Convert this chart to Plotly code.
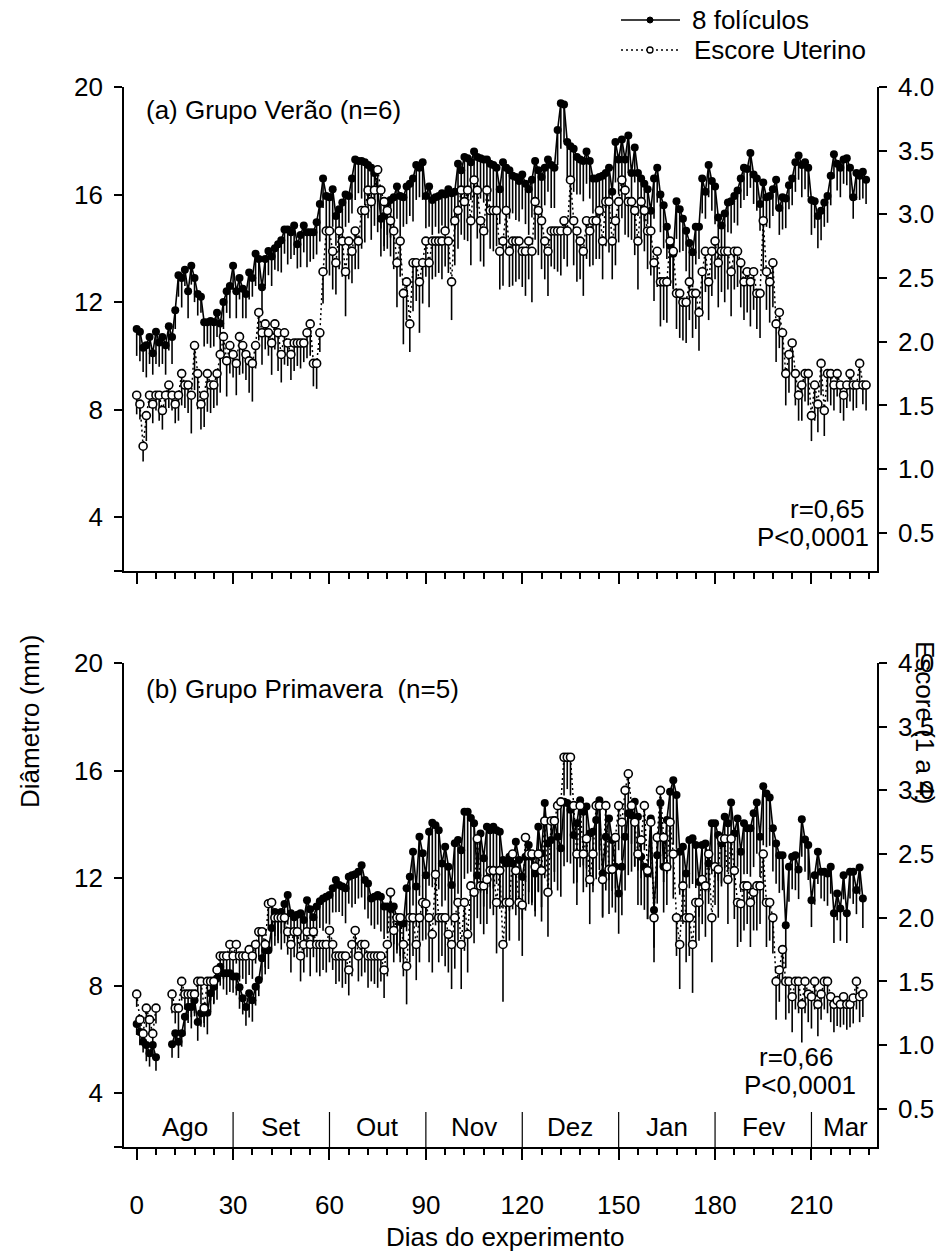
import plotly.graph_objects as go

# ---------------- data ----------------
# (a) Grupo Verão: mean diameter of the 8 largest follicles (mm), daily from day 0
fol_a = [11.0, 10.9, 10.3, 10.4, 10.7, 10.1, 10.9, 10.5, 10.7, 10.4,
         11.1, 10.7, 11.7, 13.0, 12.9, 13.2, 12.4, 13.35, 12.9, 12.3,
         12.2, 11.25, 11.25, 11.3, 11.25, 11.6, 11.2, 12.0, 12.4, 12.6,
         13.35, 12.4, 12.9, 12.5, 12.3, 13.1, 12.9, 13.8, 13.6, 12.55,
         13.6, 13.9, 13.7, 14.0, 14.15, 14.3, 14.7, 14.7, 14.6, 14.85,
         14.15, 14.5, 14.85, 14.6, 14.6, 14.6, 14.97, 15.65, 16.6, 15.95,
         15.9, 16.2, 15.2, 15.45, 15.7, 16.0, 15.95, 16.6, 17.3, 17.25,
         17.25, 17.2, 17.1, 17.0, 16.8, 16.2, 15.1, 15.2, 15.7, 15.8,
         15.9, 16.3, 15.95, 15.9, 16.3, 16.4, 16.6, 17.1, 17.0, 17.2,
         15.95, 16.3, 15.8, 15.9, 15.95, 16.05, 16.0, 16.2, 16.05, 16.1,
         17.15, 16.9, 17.4, 17.35, 17.2, 17.6, 17.4, 17.35, 17.3, 17.3,
         17.15, 17.1, 17.0, 16.2, 17.2, 17.0, 16.9, 16.7, 16.65, 16.5,
         16.75, 16.4, 16.2, 16.55, 17.25, 16.9, 16.65, 17.0, 17.3, 17.1,
         17.0, 18.4, 19.4, 19.35, 17.95, 17.8, 17.7, 17.4, 17.3, 17.25,
         17.6, 17.25, 16.6, 16.6, 16.65, 16.7, 16.8, 17.0, 16.1, 17.95,
         17.3, 18.05, 17.3, 18.2, 16.8, 17.75, 16.8, 16.6, 16.4, 16.2,
         15.4, 16.6, 17.0, 16.0, 15.6, 14.8, 14.1, 13.8, 15.75, 15.45,
         15.1, 14.65, 14.2, 13.85, 14.8, 14.8, 16.6, 16.1, 17.1, 16.5,
         16.3, 15.15, 14.85, 15.3, 15.7, 15.75, 15.95, 16.15, 16.6, 17.0,
         16.95, 17.55, 16.75, 16.6, 15.65, 16.45, 15.9, 15.95, 16.2, 16.55,
         15.5, 15.9, 15.85, 16.35, 16.6, 17.2, 17.45, 17.1, 17.2, 17.0,
         15.8, 15.75, 15.2, 15.4, 15.7, 15.95, 16.7, 17.5, 17.15, 17.0,
         17.3, 17.35, 17.0, 15.9, 16.8, 16.7, 16.85, 16.55]
fol_a_err = [1.0, 1.1, 0.9, 1.2, 1.0, 0.8, 1.2, 0.9, 1.0, 1.1, 0.9, 1.0,
             0.7, 0.8, 1.1, 0.6, 1.0, 0.7, 0.9, 0.8, 0.6, 0.9, 0.8, 1.0, 0.9,
             0.9, 1.1, 1.0, 0.8, 1.2, 0.9, 1.0, 0.8, 1.1, 0.9, 1.0, 0.7, 1.2, 1.1, 0.9, 1.0,
             0.9, 1.1, 0.8, 1.0, 1.2, 0.9, 1.3, 1.0, 1.1, 0.9, 1.2, 1.0, 1.3, 1.1, 1.0, 1.2, 1.4, 1.1, 1.3,
             1.2, 1.4, 1.1, 1.6, 1.3, 1.2, 1.0, 1.3, 1.5, 1.2, 1.4, 1.6, 1.3, 1.5, 1.2, 1.6, 1.4, 1.3, 1.2, 1.4,
             1.3, 1.2, 1.5, 1.1, 1.4, 1.2, 1.6, 1.3, 1.1, 1.4, 1.2, 1.5, 1.3, 1.1, 1.4, 1.2, 1.3, 1.5, 1.2, 1.4,
             1.6, 1.3, 1.8, 1.5, 1.4, 1.7, 1.9, 1.5, 1.6, 1.8, 1.4, 1.6, 1.5, 1.3, 1.7, 1.5, 1.8, 1.4, 1.6, 1.5,
             1.3, 1.5, 1.7, 1.4, 1.6, 1.3, 1.5, 1.4, 1.2, 1.6, 1.5, 1.3, 1.7, 1.4, 1.5, 1.2, 1.6, 1.4, 1.3, 1.5,
             1.2, 1.4, 1.3, 1.6, 1.2, 1.5, 1.3, 1.4, 1.1, 1.5, 1.3, 1.6, 1.2, 1.4, 1.5, 1.3, 1.6, 1.2, 1.4, 1.3,
             1.2, 1.5, 1.3, 1.4, 1.6, 1.2, 1.5, 1.3, 1.4, 1.6, 1.2, 1.5, 1.7, 1.3, 1.4, 1.2, 1.3, 1.0, 1.2, 1.1,
             1.4, 1.5, 1.2, 1.3, 1.1, 1.2, 1.0, 1.3, 1.1, 1.2, 1.0, 1.3, 1.1, 1.2, 1.0, 1.3, 1.1, 1.2, 1.0, 1.1,
             1.0, 1.2, 1.1, 0.9, 1.0, 1.1, 0.9, 1.2, 1.0, 1.1, 1.3, 1.0, 1.2, 1.1, 0.9, 1.0, 1.1, 0.9, 1.0, 1.1,
             0.9, 1.0, 1.1, 0.8, 1.0, 0.9, 1.0, 0.9]

# (a) uterine score (1 to 4)
esc_a = [1.58, 1.51, 1.18, 1.42, 1.58, 1.51, 1.58, 1.58, 1.46, 1.58,
         1.66, 1.58, 1.51, 1.58, 1.75, 1.66, 1.66, 1.58, 1.97, 1.75,
         1.51, 1.58, 1.75, 1.66, 1.66, 1.75, 1.90, 2.04, 1.85, 1.97,
         1.90, 1.83, 2.04, 1.97, 1.90, 1.85, 1.83, 1.97, 2.23, 2.07,
         2.14, 2.07, 1.99, 2.14, 2.07, 1.90, 2.07, 1.99, 1.90, 1.99,
         1.99, 1.99, 1.99, 2.07, 2.14, 1.83, 1.83, 2.07, 2.55, 2.87,
         2.87, 2.71, 2.62, 2.87, 2.79, 2.55, 2.79, 2.71, 2.87, 2.79,
         3.03, 3.03, 3.19, 3.10, 3.19, 3.35, 3.19, 3.10, 3.03, 2.95,
         2.87, 2.62, 2.79, 2.38, 2.47, 2.14, 2.62, 2.62, 2.47, 2.62,
         2.79, 2.62, 2.79, 2.79, 2.79, 2.79, 2.87, 2.79, 2.47, 2.95,
         3.03, 3.19, 3.10, 3.19, 2.95, 3.27, 3.19, 2.95, 2.87, 3.19,
         3.03, 3.03, 3.03, 2.71, 2.79, 3.03, 2.71, 2.79, 2.79, 2.79,
         2.71, 2.71, 2.79, 2.71, 3.10, 3.03, 2.95, 2.79, 2.71, 2.87,
         2.87, 2.87, 2.87, 2.95, 2.87, 3.27, 2.95, 2.87, 2.79, 2.71,
         2.95, 2.87, 2.95, 2.95, 3.03, 2.79, 3.10, 3.10, 2.79, 2.95,
         3.10, 3.27, 3.19, 3.10, 3.10, 3.03, 2.79, 3.10, 3.03, 2.87,
         2.87, 2.62, 2.71, 2.47, 2.47, 2.47, 2.79, 2.71, 2.38, 2.38,
         2.31, 2.31, 2.47, 2.38, 2.38, 2.23, 2.55, 2.71, 2.47, 2.71,
         2.79, 2.62, 2.71, 2.71, 2.71, 2.55, 2.71, 2.71, 2.62, 2.47,
         2.55, 2.47, 2.55, 2.38, 2.38, 2.95, 2.55, 2.47, 2.62, 2.14,
         2.23, 2.07, 1.75, 1.90, 1.99, 1.75, 1.58, 1.66, 1.75, 1.75,
         1.42, 1.66, 1.51, 1.83, 1.46, 1.75, 1.75, 1.66, 1.75, 1.66,
         1.58, 1.66, 1.75, 1.66, 1.66, 1.83, 1.66, 1.66]
esc_a_err = [0.15, 0.12, 0.12, 0.2, 0.1, 0.15, 0.12, 0.2, 0.15, 0.1, 0.18, 0.12, 0.15, 0.2, 0.25, 0.18, 0.22, 0.3, 0.35, 0.28,
             0.2, 0.25, 0.3, 0.22, 0.18, 0.25, 0.3, 0.2, 0.28, 0.22, 0.18, 0.25, 0.3, 0.22, 0.2, 0.25, 0.3, 0.18, 0.22, 0.25,
             0.2, 0.18, 0.25, 0.2, 0.3, 0.22, 0.25, 0.18, 0.2, 0.22, 0.18, 0.2, 0.15, 0.2, 0.25, 0.18, 0.2, 0.15, 0.25, 0.3,
             0.35, 0.3, 0.25, 0.3, 0.28, 0.35, 0.3, 0.25, 0.3, 0.22, 0.3, 0.25, 0.22, 0.3, 0.28, 0.25, 0.3, 0.35, 0.3, 0.28,
             0.3, 0.35, 0.28, 0.4, 0.3, 0.22, 0.38, 0.3, 0.4, 0.32, 0.28, 0.35, 0.3, 0.28, 0.25, 0.3, 0.28, 0.25, 0.3, 0.35,
             0.3, 0.35, 0.3, 0.4, 0.35, 0.3, 0.38, 0.32, 0.28, 0.35, 0.3, 0.32, 0.28, 0.3, 0.35, 0.3, 0.28, 0.35, 0.32, 0.3,
             0.28, 0.35, 0.3, 0.4, 0.3, 0.35, 0.38, 0.3, 0.35, 0.28, 0.3, 0.32, 0.35, 0.3, 0.28, 0.3, 0.35, 0.4, 0.3, 0.35,
             0.3, 0.28, 0.35, 0.3, 0.38, 0.3, 0.35, 0.4, 0.3, 0.35, 0.32, 0.3, 0.35, 0.28, 0.3, 0.35, 0.38, 0.3, 0.32, 0.3,
             0.35, 0.3, 0.28, 0.35, 0.3, 0.32, 0.35, 0.3, 0.28, 0.35, 0.3, 0.32, 0.3, 0.35, 0.28, 0.3, 0.35, 0.32, 0.3, 0.35,
             0.3, 0.35, 0.32, 0.4, 0.3, 0.35, 0.3, 0.28, 0.35, 0.3, 0.32, 0.35, 0.3, 0.28, 0.35, 0.4, 0.3, 0.32, 0.35, 0.3,
             0.28, 0.3, 0.25, 0.3, 0.22, 0.25, 0.2, 0.28, 0.22, 0.25, 0.2, 0.28, 0.22, 0.25, 0.2, 0.22, 0.25, 0.2, 0.18, 0.22,
             0.2, 0.18, 0.22, 0.2, 0.18, 0.2, 0.15, 0.2]

# (b) Grupo Primavera: follicle diameter (mm); days 7-10 not recorded
fol_b = [6.57, 6.28, 5.91, 5.79, 5.49, 5.79, 5.34, None, None, None,
         None, 5.82, 6.23, 5.91, 6.23, 6.84, 7.21, 7.21, 7.46, 6.65,
         6.97, 7.21, 6.99, 7.72, 7.96, 8.28, 8.7, 8.46, 8.46, 8.46,
         8.34, 8.34, 7.94, 7.53, 7.21, 7.72, 7.46, 7.96, 8.21, 9.02,
         9.32, 9.32, 10.14, 10.74, 10.69, 10.74, 11.04, 11.37, 10.69, 10.54,
         10.64, 10.69, 10.44, 11.18, 10.84, 10.54, 10.94, 11.14, 11.24, 11.31,
         11.37, 11.62, 11.93, 11.74, 11.69, 11.62, 12.05, 12.11, 12.14, 12.24,
         12.48, 11.93, 11.8, 11.24, 11.31, 11.37, 11.31, 10.94, 10.94, 10.87,
         10.94, 10.54, 10.37, 10.31, 11.62, 12.05, 12.98, 11.69, 13.54, 12.92,
         12.11, 13.72, 14.06, 13.97, 13.78, 12.54, 13.17, 12.42, 11.74, 13.3,
         13.42, 13.04, 14.47, 14.47, 14.24, 14.04, 12.11, 13.66, 12.74, 13.91,
         13.78, 13.91, 13.78, 13.72, 12.67, 12.54, 12.79, 12.54, 13.35, 12.67,
         12.05, 12.79, 13.23, 12.79, 12.17, 13.91, 12.92, 14.79, 13.29, 13.42,
         14.16, 13.54, 13.11, 14.84, 14.79, 14.54, 13.6, 14.04, 14.9, 14.47,
         14.66, 13.66, 13.72, 14.16, 14.9, 12.17, 13.54, 14.22, 13.42, 12.42,
         11.43, 12.42, 13.54, 14.41, 14.34, 14.84, 14.28, 12.79, 12.42, 12.17,
         14.22, 10.81, 12.85, 14.79, 12.42, 14.16, 15.21, 15.64, 15.09, 12.98,
         13.17, 12.17, 13.42, 13.48, 13.23, 11.86, 13.23, 13.29, 12.54, 14.04,
         14.04, 13.6, 13.29, 14.28, 14.04, 14.81, 13.66, 14.22, 12.98, 14.04,
         13.85, 13.85, 14.41, 14.81, 13.54, 15.42, 15.15, 15.0, 13.85, 13.29,
         12.85, 12.85, 10.25, 12.42, 12.79, 12.85, 12.32, 14.19, 13.44, 13.23,
         11.18, 12.11, 12.98, 12.24, 12.24, 12.17, 12.42, 10.69, 11.43, 10.87,
         12.11, 10.69, 12.24, 12.24, 11.56, 12.39, 11.24]
fol_b_err = [0.4, 0.5, 0.4, 0.6, 0.5, 0.4, 0.5, None, None, None, None,
             0.5, 0.4, 0.6, 0.5, 0.7, 0.6, 0.8, 0.6, 0.7, 0.5, 0.6, 0.8, 0.7, 0.6, 0.8, 0.7, 0.6, 0.8, 0.7, 0.6,
             0.7, 0.8, 0.6, 0.7, 0.9, 0.8, 0.7, 0.6, 0.8, 0.9, 0.7, 0.8, 0.9, 1.0, 0.8, 0.9, 1.1, 0.8, 1.0, 0.9,
             1.0, 0.9, 1.1, 1.0, 0.9, 1.1, 1.0, 1.2, 1.0, 1.1, 0.9, 1.2, 1.0, 1.1, 1.3, 1.0, 1.2, 1.1, 1.0, 1.2,
             1.1, 1.3, 1.0, 1.2, 1.1, 1.3, 1.2, 1.0, 1.3, 1.4, 1.2, 1.5, 1.3, 1.6, 1.4, 2.0, 1.5, 2.2, 1.8, 1.6,
             2.0, 2.4, 1.8, 2.2, 1.6, 2.0, 1.8, 1.5, 2.2, 2.0, 1.8, 2.5, 2.3, 2.0, 2.4, 1.6, 2.2, 1.8, 2.5, 2.1,
             2.3, 2.0, 2.4, 1.8, 1.6, 2.0, 1.7, 2.2, 1.8, 1.6, 2.0, 2.2, 1.8, 1.6, 2.4, 2.0, 2.6, 1.8, 2.0, 2.3,
             2.0, 1.8, 2.4, 2.2, 2.0, 1.8, 2.2, 2.5, 2.0, 2.3, 1.8, 2.0, 2.2, 2.6, 1.6, 2.0, 2.3, 1.9, 1.7, 1.5,
             1.8, 2.0, 2.3, 2.1, 2.4, 2.0, 1.8, 1.6, 1.7, 2.2, 1.4, 1.8, 2.4, 1.7, 2.0, 2.2, 2.4, 2.0, 1.6, 1.8,
             1.5, 1.8, 1.7, 1.6, 1.3, 1.7, 1.8, 1.5, 1.9, 2.0, 1.7, 1.6, 1.9, 1.8, 2.0, 1.6, 1.8, 1.5, 1.9, 1.7,
             1.8, 2.0, 1.9, 1.5, 2.2, 2.0, 1.8, 1.6, 1.5, 1.4, 1.3, 1.6, 1.3, 1.2, 1.3, 1.1, 1.4, 1.2, 1.3, 1.0,
             1.1, 1.2, 1.0, 1.1, 1.2, 1.0, 1.1, 1.0, 1.2, 0.9, 1.1, 1.0, 1.2, 0.9, 1.0, 1.1]

esc_b = [1.40, 1.20, 1.09, 1.29, 1.20, 1.09, 1.29, None, None, None,
         None, 1.40, 1.29, 1.29, 1.50, 1.40, 1.40, 1.40, 1.40, 1.50,
         1.50, 1.29, 1.50, 1.50, 1.50, 1.59, 1.70, 1.70, 1.70, 1.79,
         1.70, 1.79, 1.70, 1.70, 1.70, 1.75, 1.70, 1.79, 1.89, 1.89,
         1.79, 2.11, 2.12, 2.0, 2.0, 2.0, 2.0, 1.89, 1.79, 1.89,
         1.89, 1.70, 1.79, 1.89, 1.79, 1.89, 1.79, 1.79, 1.79, 1.79,
         1.90, 1.79, 1.70, 1.70, 1.70, 1.70, 1.59, 1.79, 1.90, 1.70,
         1.79, 1.79, 1.70, 1.70, 1.70, 1.70, 1.70, 1.59, 1.79, 2.20,
         1.90, 2.0, 2.0, 1.79, 1.62, 2.0, 2.0, 1.79, 2.0, 2.12,
         2.11, 2.0, 1.87, 2.34, 2.0, 2.0, 2.0, 1.87, 1.79, 2.0,
         2.12, 1.79, 2.12, 1.87, 2.25, 2.20, 2.62, 2.25, 2.25, 2.30,
         2.37, 2.37, 2.12, 2.37, 1.79, 2.12, 2.12, 2.50, 2.37, 2.12,
         2.10, 2.63, 2.50, 2.50, 2.40, 2.50, 2.37, 2.76, 2.20, 2.76,
         2.76, 2.88, 2.91, 3.26, 3.26, 3.26, 2.88, 2.50, 2.88, 2.50,
         2.62, 2.30, 2.50, 2.88, 2.88, 2.30, 2.88, 2.38, 2.38, 2.63,
         2.88, 2.75, 3.0, 3.13, 2.88, 2.75, 2.50, 2.61, 2.88, 2.37,
         2.75, 2.0, 2.63, 3.0, 2.63, 2.40, 2.75, 2.50, 2.0, 1.79,
         2.25, 2.0, 2.0, 1.79, 2.12, 2.12, 2.30, 2.25, 2.50, 2.0,
         2.40, 2.38, 2.62, 2.62, 2.30, 2.62, 2.37, 2.12, 2.11, 2.25,
         2.25, 2.12, 2.20, 2.25, 2.25, 2.50, 2.12, 2.12, 2.0, 1.50,
         1.59, 1.75, 1.50, 1.50, 1.38, 1.50, 1.50, 1.32, 1.50, 1.40,
         1.38, 1.50, 1.32, 1.40, 1.50, 1.50, 1.38, 1.32, 1.35, 1.32,
         1.38, 1.32, 1.32, 1.37, 1.50, 1.38, 1.40]
esc_b_err = [0.1, 0.12, 0.1, 0.15, 0.12, 0.1, 0.12, None, None, None, None,
             0.15, 0.12, 0.18, 0.15, 0.12, 0.15, 0.18, 0.15, 0.12, 0.18, 0.15, 0.2, 0.15, 0.18, 0.15, 0.2, 0.18, 0.15, 0.2, 0.18,
             0.15, 0.2, 0.18, 0.22, 0.2, 0.18, 0.15, 0.2, 0.22, 0.18, 0.2, 0.18, 0.22, 0.2, 0.25, 0.2, 0.18, 0.22, 0.2, 0.18,
             0.2, 0.22, 0.2, 0.25, 0.2, 0.22, 0.25, 0.2, 0.22, 0.25, 0.2, 0.22, 0.2, 0.25, 0.22, 0.2, 0.25, 0.22, 0.2, 0.25,
             0.22, 0.25, 0.2, 0.22, 0.25, 0.2, 0.22, 0.25, 0.3, 0.25, 0.28, 0.3, 0.25, 0.3, 0.35, 0.3, 0.28, 0.35, 0.3, 0.28,
             0.35, 0.3, 0.4, 0.35, 0.3, 0.38, 0.3, 0.35, 0.4, 0.3, 0.35, 0.38, 0.3, 0.35, 0.4, 0.35, 0.3, 0.38, 0.35, 0.3,
             0.35, 0.4, 0.3, 0.45, 0.35, 0.3, 0.4, 0.35, 0.3, 0.4, 0.35, 0.3, 0.38, 0.35, 0.3, 0.4, 0.45, 0.35, 0.3, 0.4,
             0.35, 0.3, 0.3, 0.25, 0.3, 0.35, 0.4, 0.35, 0.3, 0.38, 0.35, 0.3, 0.4, 0.35, 0.3, 0.38, 0.35, 0.3, 0.4, 0.35,
             0.3, 0.35, 0.38, 0.3, 0.35, 0.4, 0.3, 0.35, 0.38, 0.3, 0.35, 0.4, 0.3, 0.35, 0.3, 0.38, 0.35, 0.3, 0.35, 0.3,
             0.35, 0.3, 0.38, 0.35, 0.3, 0.35, 0.4, 0.3, 0.35, 0.3, 0.38, 0.35, 0.3, 0.35, 0.3, 0.38, 0.35, 0.3, 0.35, 0.3,
             0.35, 0.3, 0.35, 0.3, 0.38, 0.35, 0.3, 0.28, 0.3, 0.25, 0.28, 0.3, 0.25, 0.28, 0.22, 0.25, 0.3, 0.25, 0.22, 0.25,
             0.22, 0.25, 0.2, 0.22, 0.25, 0.2, 0.22, 0.2, 0.18, 0.22, 0.2, 0.18, 0.2, 0.22, 0.2, 0.18]

# month bands along the day axis of panel (b)
month_names = ["Ago", "Set", "Out", "Nov", "Dez", "Jan", "Fev", "Mar"]
month_centres = [15, 45, 75, 105, 135, 165, 195, 220.5]
month_edges = [30, 60, 90, 120, 150, 180, 210]

# ---------------- layout geometry ----------------
W, H = 940, 1253
FONT = "Liberation Sans, Arial, sans-serif"
FS = 26
X_DOM = [124 / W, 877 / W]
X_RANGE = [-3.95, 230.4]
Y_DOM_A = [1 - 571 / H, 1 - 87 / H]
Y_DOM_B = [1 - 1147 / H, 1 - 663 / H]
LW = 1.6


def px(x):
    return x / W


def py(y):
    return 1 - y / H


def add_series(fig, vals, errs, xa, ya, filled):
    days = list(range(len(vals)))
    fig.add_trace(go.Scatter(
        x=days, y=vals, xaxis=xa, yaxis=ya,
        mode="lines+markers", showlegend=False, cliponaxis=False,
        line=dict(color="black", width=1.6 if filled else 1.5,
                  dash="solid" if filled else "2px,3px"),
        marker=dict(symbol="circle", size=8,
                    color="black" if filled else "white",
                    line=dict(color="black", width=0 if filled else 1.6)),
        error_y=dict(type="data", symmetric=False,
                     array=[0 if e is not None else None for e in errs],
                     arrayminus=errs, color="black", thickness=1.6, width=0),
    ))


fig = go.Figure()
add_series(fig, fol_a, fol_a_err, "x", "y", True)
add_series(fig, esc_a, esc_a_err, "x", "y2", False)
add_series(fig, fol_b, fol_b_err, "x2", "y3", True)
add_series(fig, esc_b, esc_b_err, "x2", "y4", False)

common_x = dict(domain=X_DOM, range=X_RANGE, showline=True, linecolor="black",
                linewidth=LW, ticks="outside", tick0=0, dtick=30, ticklen=11,
                tickwidth=LW, tickcolor="black", showgrid=False, zeroline=False,
                automargin=False,
                minor=dict(ticks="outside", tick0=0, dtick=6, ticklen=6,
                           tickwidth=LW, tickcolor="black", showgrid=False))
left_y = dict(range=[2, 20], showline=True, linecolor="black", linewidth=LW,
              ticks="outside", tickvals=[2, 4, 8, 12, 16, 20],
              ticktext=["", "4", "8", "12", "16", "20"],
              ticklen=8, tickwidth=LW, tickcolor="black", showgrid=False,
              zeroline=False, automargin=False, ticklabelstandoff=6)
right_y = dict(range=[0.2, 4.0], side="right", showline=True, linecolor="black",
               linewidth=LW, ticks="outside", tick0=0, dtick=0.5, ticklen=8,
               tickwidth=LW, tickcolor="black", tickformat=".1f",
               showgrid=False, zeroline=False, automargin=False,
               ticklabelstandoff=6)

fig.update_layout(
    width=W, height=H, autosize=False,
    margin=dict(l=0, r=0, t=0, b=0, autoexpand=False),
    paper_bgcolor="white", plot_bgcolor="white",
    font=dict(family=FONT, size=FS, color="black"),
    showlegend=False,
    xaxis=dict(common_x, anchor="y", showticklabels=False),
    yaxis=dict(left_y, domain=Y_DOM_A, anchor="x"),
    yaxis2=dict(right_y, overlaying="y", anchor="x"),
    xaxis2=dict(common_x, anchor="y3", showticklabels=True, ticklabelstandoff=23),
    yaxis3=dict(left_y, domain=Y_DOM_B, anchor="x2"),
    yaxis4=dict(right_y, overlaying="y3", anchor="x2"),
)

shapes = []
annotations = []

# month separators and names in panel (b)
for e in month_edges:
    shapes.append(dict(type="line", xref="x2", yref="y3 domain", x0=e, x1=e,
                       y0=0, y1=35 / 484, line=dict(color="black", width=1.2)))
for name, c in zip(month_names, month_centres):
    annotations.append(dict(text=name, xref="x2", yref="paper", x=c, y=py(1127),
                            showarrow=False, xanchor="center", yanchor="middle"))

# panel headings and statistics
annotations += [
    dict(text="(a) Grupo Verão (n=6)", x=px(144), y=py(110), xanchor="left"),
    dict(text="(b) Grupo Primavera  (n=5)", x=px(144), y=py(689), xanchor="left"),
    dict(text="r=0,65", x=px(866), y=py(509), xanchor="right"),
    dict(text="P<0,0001", x=px(871), y=py(537), xanchor="right"),
    dict(text="r=0,66", x=px(835), y=py(1057), xanchor="right"),
    dict(text="P<0,0001", x=px(858), y=py(1085), xanchor="right"),
    dict(text="Diâmetro (mm)", x=px(30), y=py(722), textangle=-90),
    dict(text="Escore (1 a 4)", x=px(925), y=py(722), textangle=90),
    dict(text="Dias do experimento", x=px(505), y=py(1237)),
    dict(text="8 folículos", x=px(690), y=py(20), xanchor="left"),
    dict(text="Escore Uterino", x=px(692), y=py(50), xanchor="left"),
]
for a in annotations:
    a.setdefault("xref", "paper")
    a.setdefault("yref", "paper")
    a.setdefault("showarrow", False)
    a.setdefault("yanchor", "middle")
    a.setdefault("xanchor", "center")

# legend keys
shapes += [
    dict(type="line", xref="paper", yref="paper", x0=px(621), x1=px(680),
         y0=py(20), y1=py(20), line=dict(color="black", width=1.6)),
    dict(type="circle", xref="paper", yref="paper", x0=px(647), x1=px(653),
         y0=py(23), y1=py(17), fillcolor="black", line=dict(color="black", width=1)),
    dict(type="line", xref="paper", yref="paper", x0=px(621), x1=px(680),
         y0=py(50), y1=py(50), line=dict(color="black", width=1.5, dash="2px,3px")),
    dict(type="circle", xref="paper", yref="paper", x0=px(647), x1=px(653),
         y0=py(53), y1=py(47), fillcolor="white", line=dict(color="black", width=1.3)),
]

fig.update_layout(shapes=shapes, annotations=annotations)
fig.write_html("out.html")
